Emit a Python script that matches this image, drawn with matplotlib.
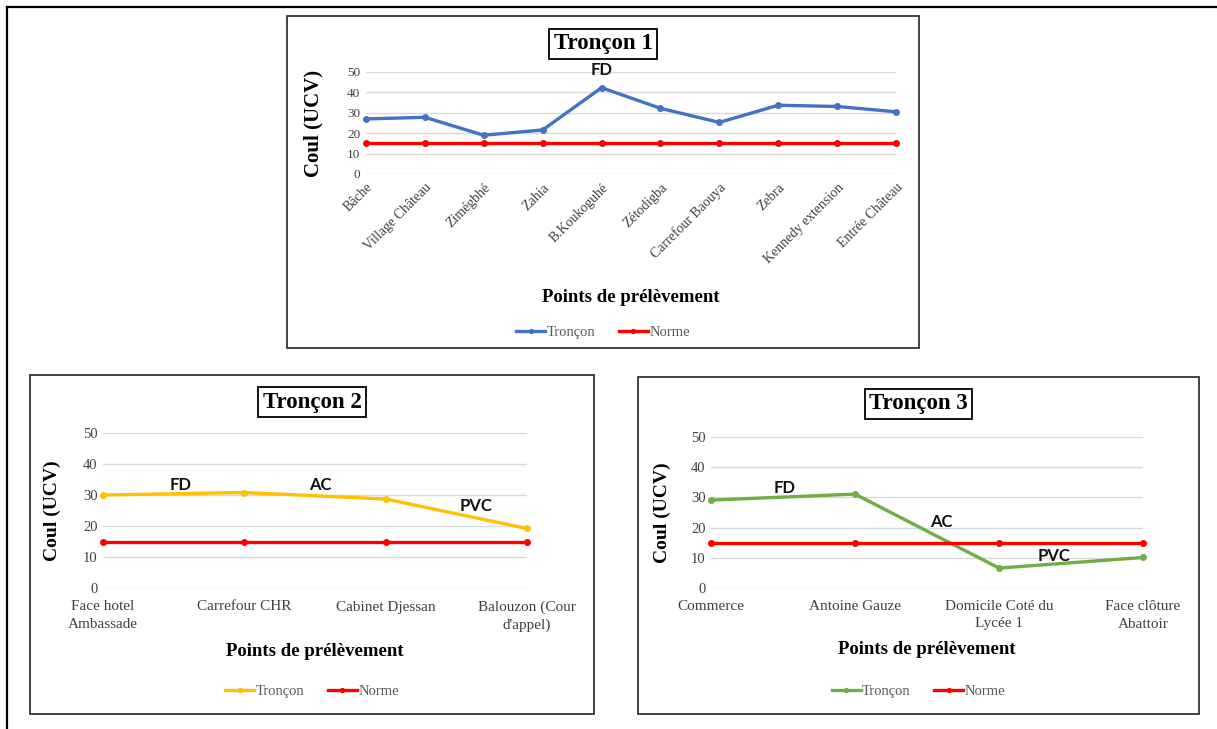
import matplotlib.pyplot as plt
from matplotlib.patches import Rectangle
from matplotlib.lines import Line2D

W, H = 1217, 729

# --- data ---
t1_points = ["Bâche", "Village Château", "Zimégbhé", "Zahia", "B.Koukoguhé",
             "Zétodigba", "Carrefour Baouya", "Zebra", "Kennedy extension", "Entrée Château"]
t1_values = [27, 27.8, 19, 21.6, 42.3, 32.2, 25.3, 33.7, 33.1, 30.5]
t1_norme = [15] * 10

t2_points = ["Face hotel\nAmbassade", "Carrefour CHR", "Cabinet Djessan", "Balouzon (Cour\nd'appel)"]
t2_values = [30, 30.8, 28.7, 19.2]
t2_norme = [15] * 4

t3_points = ["Commerce", "Antoine Gauze", "Domicile Coté du\nLycée 1", "Face clôture\nAbattoir"]
t3_values = [29.1, 31.1, 6.6, 10.1]
t3_norme = [15] * 4

SERIF = "Liberation Serif"
SANS = "Lato"
RED = "#FF0000"


def fr(x0, y0, x1, y1):
    # pixel box -> figure fraction [left, bottom, width, height]
    return [x0 / W, 1 - y1 / H, (x1 - x0) / W, (y1 - y0) / H]


fig = plt.figure(figsize=(W / 100, H / 100), dpi=100)

# outer frame (top and left only)
fig.add_artist(Line2D([7 / W, 1], [1 - 7 / H, 1 - 7 / H], color="black", lw=1.6))
fig.add_artist(Line2D([7 / W, 7 / W], [0, 1 - 7 / H], color="black", lw=1.6))


def panel(box, axbox, title, points, values, norme, color, rot, notes,
          ylab_x, xlab_y, leg_y, title_y, ylab_size):
    bx0, by0, bx1, by1 = box
    fig.add_artist(Rectangle((bx0 / W, 1 - by1 / H), (bx1 - bx0) / W, (by1 - by0) / H,
                             transform=fig.transFigure, fill=False,
                             edgecolor="#333333", lw=1.3))
    ax = fig.add_axes(fr(*axbox))
    x = list(range(len(points)))
    ax.plot(x, values, color=color, lw=2.4, marker="o", ms=4, label="Tronçon",
            zorder=3, clip_on=False)
    ax.plot(x, norme, color=RED, lw=2.4, marker="o", ms=4, label="Norme",
            zorder=3, clip_on=False)
    ax.set_xlim(0, len(points) - 1)
    ax.set_ylim(0, 50)
    ax.set_yticks([0, 10, 20, 30, 40, 50])
    ax.grid(axis="y", color="#D9D9D9", lw=1)
    ax.set_axisbelow(True)
    for s in ax.spines.values():
        s.set_visible(False)
    ax.tick_params(length=0)
    ax.set_xticks(x)
    if rot:
        ax.set_xticklabels(points, rotation=45, ha="right", rotation_mode="anchor",
                           family=SERIF, fontsize=10, color="#404040")
        ax.tick_params(axis="x", pad=5)
    else:
        ax.set_xticklabels(points, family=SERIF, fontsize=11, color="#404040")
        for lab in ax.get_xticklabels():
            lab.set_linespacing(1.4)
        ax.tick_params(axis="x", pad=9)
    for lab in ax.get_yticklabels():
        lab.set_family(SERIF)
        lab.set_fontsize(10.5 if not rot else 9.5)
        lab.set_color("#404040")
    ax.tick_params(axis="y", pad=4)
    for txt, xv, yv in notes:
        ax.text(xv, yv, txt, family=SANS, fontweight="bold", fontsize=12,
                ha="center", va="center", color="#111111", clip_on=False)

    cx = (bx0 + bx1) / 2
    fig.text(cx / W, 1 - title_y / H, title, family=SERIF, fontweight="bold",
             fontsize=16.5, ha="center", va="center",
             bbox=dict(boxstyle="square,pad=0.2", fc="white", ec="black", lw=1.3))
    ymid = (axbox[1] + axbox[3]) / 2
    fig.text(ylab_x / W, 1 - ymid / H, "Coul (UCV)", family=SERIF, fontweight="bold",
             fontsize=ylab_size, rotation=90, ha="center", va="center")
    xmid = (axbox[0] + axbox[2]) / 2
    fig.text(xmid / W, 1 - xlab_y / H, "Points de prélèvement", family=SERIF,
             fontweight="bold", fontsize=13.5, ha="center", va="center")
    h, l = ax.get_legend_handles_labels()
    fig.legend(h, l, loc="center", bbox_to_anchor=(cx / W, 1 - leg_y / H), ncol=2,
               frameon=False, prop={"family": SERIF, "size": 10.5},
               labelcolor="#595959", handlelength=2.0, handletextpad=0.1,
               columnspacing=1.6, markerscale=0.7)
    return ax


panel((287, 16, 919, 348), (366, 72, 896, 174), "Tronçon 1",
      t1_points, t1_values, t1_norme, "#4472C4", True,
      [("FD", 4, 51)], 313, 297, 332, 44, 15)

panel((30, 375, 594, 714), (103, 433, 527, 588), "Tronçon 2",
      t2_points, t2_values, t2_norme, "#FFC000", False,
      [("FD", 0.55, 33.2), ("AC", 1.54, 33.2), ("PVC", 2.64, 26.6)],
      52, 651, 691, 402, 14)

panel((638, 377, 1199, 714), (711, 437, 1143, 588), "Tronçon 3",
      t3_points, t3_values, t3_norme, "#70AD47", False,
      [("FD", 0.51, 33), ("AC", 1.6, 22), ("PVC", 2.38, 10.5)],
      662, 650, 691, 404, 14)

fig.savefig("out.png", dpi=100)
